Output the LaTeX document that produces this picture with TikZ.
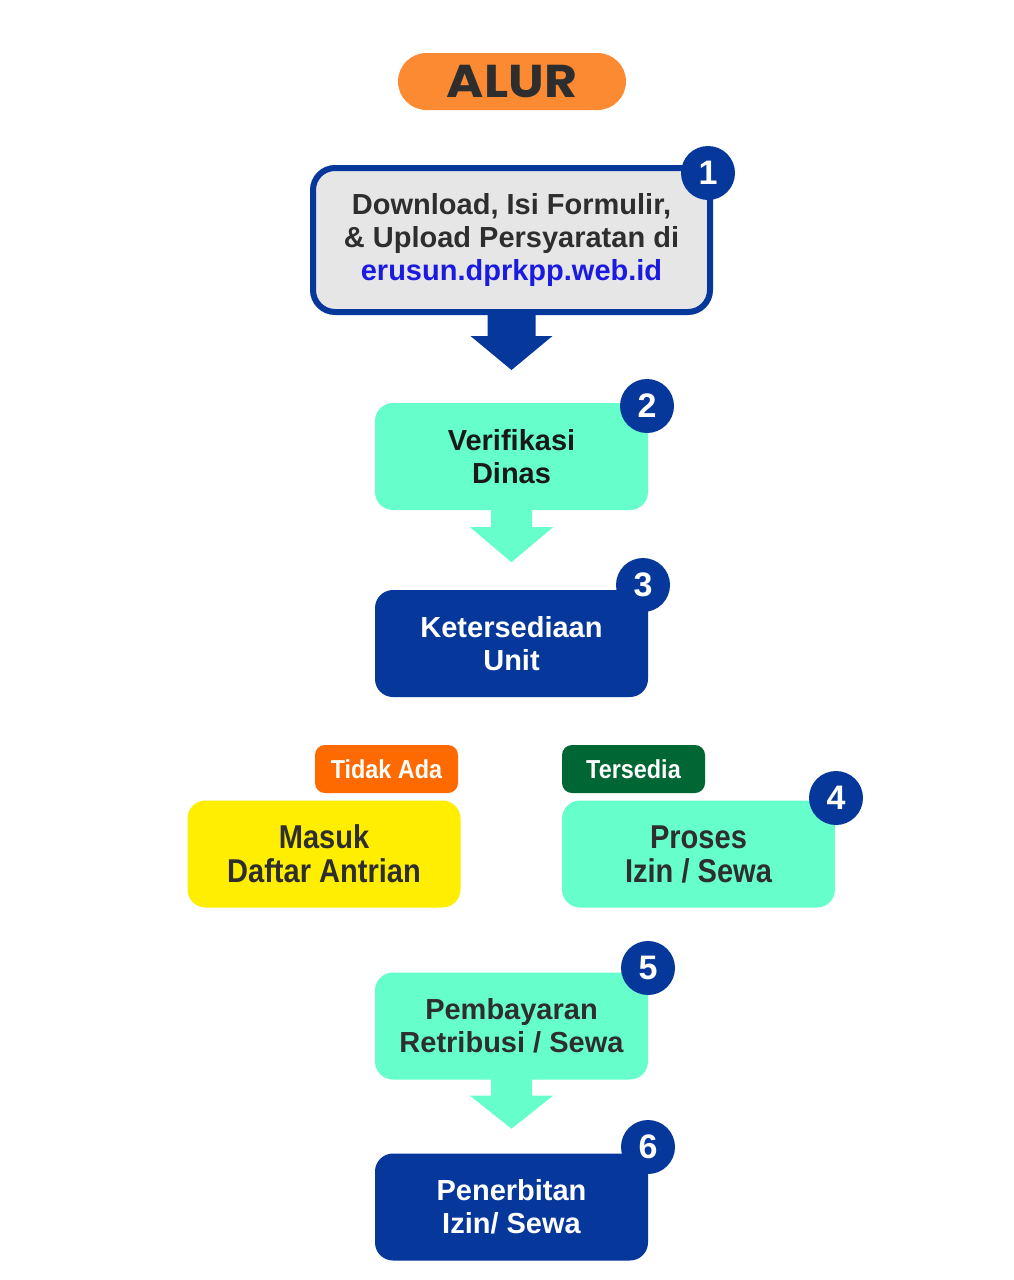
\documentclass[tikz,border=0pt]{standalone}
\usepackage{fontspec}
\setmainfont{Liberation Sans}
\newfontfamily\narrowfont{Liberation Sans}[FakeStretch=0.88]
\newfontfamily\tagfont{Liberation Sans}[FakeStretch=0.9]
\newfontfamily\alurfont{Poppins}[FakeStretch=1.1]
\usetikzlibrary{calc}
\definecolor{alurorange}{HTML}{FC8A33}
\definecolor{navy}{HTML}{06379B}
\definecolor{aqua}{HTML}{66FFCC}
\definecolor{lightgray}{HTML}{E6E6E6}
\definecolor{linkblue}{HTML}{1A1AE0}
\definecolor{tagorange}{HTML}{FF6A00}
\definecolor{taggreen}{HTML}{006633}
\definecolor{boxyellow}{HTML}{FFEE00}
\definecolor{darktext}{HTML}{2E2E2E}
\tikzset{
  stepbox/.style={rounded corners=18pt, minimum width=273pt, minimum height=107pt,
    inner sep=0pt, align=center, font=\bfseries\fontsize{29}{33}\selectfont},
  aquabox/.style={stepbox, fill=aqua, text=darktext},
  navybox/.style={stepbox, fill=navy, text=white},
  narrowbox/.style={stepbox, font=\narrowfont\bfseries\fontsize{33}{34}\selectfont},
  numdot/.style={circle, fill=navy, minimum size=54pt, inner sep=0pt, text=white,
    font=\bfseries\fontsize{34}{34}\selectfont},
  tagbox/.style={rounded corners=10pt, minimum width=143pt, minimum height=48pt,
    inner sep=0pt, text=white, font=\tagfont\bfseries\fontsize{26}{26}\selectfont},
}
\begin{document}
\begin{tikzpicture}[x=1pt,y=-1pt]
\useasboundingbox (0,0) rectangle (1013,1280);
\fill[white] (0,0) rectangle (1013,1280);

% title
\node[fill=alurorange, rounded corners=28.5pt, minimum width=228pt, minimum height=57pt,
  inner sep=0pt, text=darktext, font=\alurfont\bfseries\fontsize{46}{46}\selectfont]
  (alur) at (512,81.5) {ALUR};

% step 1
\node[draw=navy, line width=6pt, fill=lightgray, rounded corners=22pt,
  minimum width=397pt, minimum height=144pt, inner sep=0pt, align=center,
  text=darktext, font=\bfseries\fontsize{29}{33}\selectfont]
  (b1) at (511.5,240) {Download, Isi Formulir,\\ \& Upload Persyaratan di\\ \textcolor{linkblue}{erusun.dprkpp.web.id}};
\node[numdot] (n1) at (708,173) {1};

% arrow 1
\fill[navy] ($(b1.south)+(-24,0)$) -- ($(b1.south)+(-24,21)$) -- ($(b1.south)+(-41,21)$)
  -- ($(b1.south)+(0,55)$) -- ($(b1.south)+(41,21)$) -- ($(b1.south)+(24,21)$)
  -- ($(b1.south)+(24,0)$) -- cycle;

% step 2
\node[aquabox, text=black!90] (b2) at (511.5,456.5) {Verifikasi\\Dinas};
\node[numdot] (n2) at (647,406) {2};

% arrow 2
\fill[aqua] ($(b2.south)+(-20.5,-1)$) -- ($(b2.south)+(-20.5,17)$) -- ($(b2.south)+(-41.5,17)$)
  -- ($(b2.south)+(0,52)$) -- ($(b2.south)+(41.5,17)$) -- ($(b2.south)+(20.5,17)$)
  -- ($(b2.south)+(20.5,-1)$) -- cycle;

% step 3
\node[navybox] (b3) at (511.5,643.5) {Ketersediaan\\Unit};
\node[numdot] (n3) at (643,585) {3};

% branches
\node[tagbox, fill=tagorange] (t1) at (386.5,769) {Tidak Ada};
\node[tagbox, fill=taggreen] (t2) at (633.5,769) {Tersedia};
\node[narrowbox, fill=boxyellow, text=darktext] (b3a) at (324,854) {Masuk\\Daftar Antrian};
\node[narrowbox, fill=aqua, text=darktext] (b4) at (698.5,854) {Proses\\Izin / Sewa};
\node[numdot] (n4) at (836,798) {4};

% step 5
\node[aquabox] (b5) at (511.5,1026) {Pembayaran\\Retribusi / Sewa};
\node[numdot] (n5) at (648,968) {5};

% arrow 3
\fill[aqua] ($(b5.south)+(-20.5,-1)$) -- ($(b5.south)+(-20.5,16)$) -- ($(b5.south)+(-41.5,16)$)
  -- ($(b5.south)+(0,49)$) -- ($(b5.south)+(41.5,16)$) -- ($(b5.south)+(20.5,16)$)
  -- ($(b5.south)+(20.5,-1)$) -- cycle;

% step 6
\node[navybox] (b6) at (511.5,1207) {Penerbitan\\Izin/ Sewa};
\node[numdot] (n6) at (648,1147) {6};
\end{tikzpicture}
\end{document}
